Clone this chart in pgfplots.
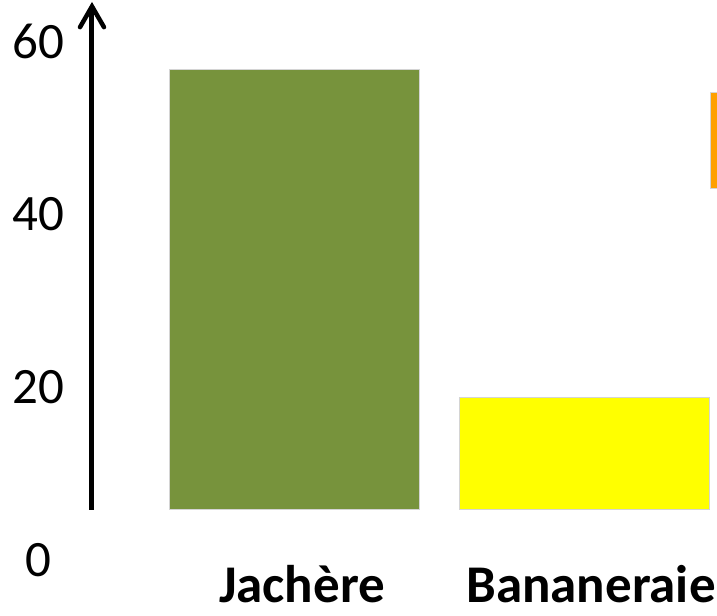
\documentclass[border=0pt]{standalone}
\usepackage{pgfplots}
\pgfplotsset{compat=1.18}
\usepackage{fontspec}
\setmainfont{Carlito}
\definecolor{olive}{HTML}{77933C}
\definecolor{yell}{HTML}{FFFF00}
\definecolor{oran}{HTML}{FFA000}
\definecolor{bord}{HTML}{D4D4D4}
\begin{document}
\begin{tikzpicture}
\begin{axis}[
  name=ax,
  scale only axis,
  width=657pt, height=560pt,
  xmin=-0.8131, xmax=1.4602,
  ymin=0, ymax=64.74,
  enlargelimits=false,
  axis lines=left,
  axis line style={draw=none},
  major tick length=0pt,
  tick style={draw=none},
  xtick={0,1},
  xticklabels={Jachère, Bananeraie},
  ytick={0,20,40,60},
  /pgf/number format/assume math mode=true,
  yticklabel style={font=\fontsize{51}{55}\selectfont, anchor=center, inner sep=0pt, xshift=-21.5pt},
  xticklabel style={font=\fontsize{53}{57}\selectfont\bfseries, anchor=base, inner sep=0pt, yshift=-42pt, xshift=7pt},
]
% invisible base
\addplot[ybar stacked, bar width=0.865, draw=none, fill=none, forget plot] coordinates {(0,5.8) (1,5.8) (1.8685,43.0)};
\addplot[ybar stacked, bar width=0.865, fill=olive, draw=bord, line width=1pt] coordinates {(0,50.85) (1,0) (1.8685,0)};
\addplot[ybar stacked, bar width=0.865, fill=yell, draw=bord, line width=1pt] coordinates {(0,0) (1,12.95) (1.8685,0)};
\addplot[ybar stacked, bar width=0.865, fill=oran, draw=bord, line width=1pt] coordinates {(0,0) (1,0) (1.8685,11.0)};
% y axis arrow: shaft and chevron head
\addplot[black, line width=5pt, sharp plot, mark=none] coordinates {(-0.7024,5.8) (-0.7024,63.9)};
\addplot[black, line width=4.5pt, sharp plot, mark=none, line cap=round, line join=miter] coordinates {(-0.7439,61.6) (-0.7024,64.0) (-0.6609,61.6)};
\end{axis}
\pgfresetboundingbox
\path (ax.south west) ++(-60pt,-55pt) rectangle (ax.north east);
\end{tikzpicture}
\end{document}
